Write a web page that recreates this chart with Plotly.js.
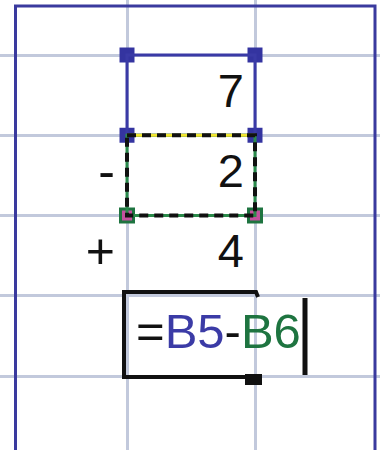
<!DOCTYPE html>
<html>
<head>
<meta charset="utf-8">
<script src="https://cdn.plot.ly/plotly-3.0.1.min.js"></script>
<style>
  html, body { margin: 0; padding: 0; background: #fff; }
  #sheet { width: 380px; height: 450px; }
</style>
</head>
<body>
<div id="sheet"></div>
<script>
// cells of column B, rows 5..7, with the operator typed in column A
var rows = [5, 6, 7];
var cellValues = [7, 2, 4];
var operators = ['', '-', '+'];

// formula being typed in B8
var formulaRow = 8;
var formulaParts = ['=', 'B5', '-', 'B6'];
var refColors = { 'B5': '#3b3ba6', 'B6': '#1e7440' };

var W = 380, H = 450;
var colLeft = 127, colW = 128;   // column B starts at 127px
var rowTop = 55, rowH = 80.25;   // row 5 starts at 55px

// pixel -> data helpers (column B spans 1.5..2.5, row r spans r-0.5..r+0.5)
function xd(p) { return 1.5 + (p - colLeft) / colW; }
function yd(p) { return 4.5 + (p - rowTop) / rowH; }
function pxX(p) { return p / W; }
function pxY(p) { return 1 - p / H; }

var numFont = { family: 'Liberation Sans, Arial, sans-serif', size: 47, color: '#111' };

var values = {
  x: rows.map(function () { return 2.5 - 11 / colW; }),
  y: rows,
  text: cellValues.map(String),
  mode: 'text',
  textposition: 'middle left',
  textfont: numFont,
  hoverinfo: 'skip',
  showlegend: false
};

var ops = {
  x: rows.map(function () { return 1.5 - 12 / colW; }),
  y: rows,
  text: operators,
  mode: 'text',
  textposition: 'middle left',
  textfont: { family: 'Liberation Sans, Arial, sans-serif', size: 50, color: '#111' },
  hoverinfo: 'skip',
  showlegend: false
};

var formulaText = formulaParts.map(function (p) {
  if (refColors[p]) return '<span style="color:' + refColors[p] + '">' + p + '</span>';
  return p;
}).join('');

var formula = {
  x: [1.5 + 9 / colW],
  y: [formulaRow],
  text: [formulaText],
  mode: 'text',
  textposition: 'middle right',
  textfont: { family: 'Liberation Sans, Arial, sans-serif', size: 49, color: '#111' },
  hoverinfo: 'skip',
  showlegend: false
};

// selection handles at the corners of the referenced cells
var blueHandles = {
  x: [1.5, 2.5, 1.5, 2.5],
  y: [4.5, 4.5, 5.5, 5.5],
  mode: 'markers',
  marker: { symbol: 'square', size: 15, color: '#3434a0' },
  hoverinfo: 'skip',
  showlegend: false
};
var greenHandles = {
  x: [1.5, 2.5],
  y: [6.5, 6.5],
  mode: 'markers',
  marker: { symbol: 'square', size: 13, color: '#c4509e', line: { color: '#1e7440', width: 3 } },
  hoverinfo: 'skip',
  showlegend: false
};

var shapes = [
  // outer frame, open at the bottom
  { type: 'path', xref: 'paper', yref: 'paper',
    path: 'M ' + pxX(15.5) + ' 0 L ' + pxX(15.5) + ' ' + pxY(6) + ' L ' + pxX(375) + ' ' + pxY(6) + ' L ' + pxX(375) + ' 0',
    line: { color: '#3a3a9e', width: 3 } },
  // B5 selection
  { type: 'rect', x0: 1.5, x1: 2.5, y0: 4.5, y1: 5.5, line: { color: '#3a3aa6', width: 3 } },
  // B6 marquee: coloured base then black dashes
  { type: 'rect', x0: 1.5, x1: 2.5, y0: 5.5, y1: 6.5, line: { color: '#2a8a4a', width: 3 } },
  { type: 'line', x0: 1.5, x1: 2.5, y0: 5.5, y1: 5.5, line: { color: '#f2e630', width: 3 } },
  { type: 'rect', x0: 1.5, x1: 2.5, y0: 5.5, y1: 6.5, line: { color: '#111', width: 4, dash: '9px,6px' } },
  // formula cell in edit mode
  { type: 'path', xref: 'x', yref: 'y',
    path: 'M ' + xd(258) + ' ' + yd(297) + ' L ' + xd(256) + ' ' + yd(292) + ' L ' + xd(124) + ' ' + yd(292) +
          ' L ' + xd(124) + ' ' + yd(377) + ' L ' + xd(248) + ' ' + yd(377),
    line: { color: '#111', width: 4 } },
  { type: 'rect', x0: xd(245), x1: xd(262), y0: yd(374), y1: yd(385), fillcolor: '#111', line: { width: 0 } },
  // text cursor
  { type: 'line', x0: xd(305), x1: xd(305), y0: yd(298), y1: yd(375), line: { color: '#111', width: 5 } }
];

var gridAxis = {
  showgrid: true, gridcolor: '#c2c9dc', gridwidth: 3,
  zeroline: false, showline: false, ticks: '', showticklabels: false,
  tick0: 0.5, dtick: 1, fixedrange: true
};

var layout = {
  width: W, height: H,
  margin: { l: 0, r: 0, t: 0, b: 0 },
  paper_bgcolor: '#fff', plot_bgcolor: '#fff',
  xaxis: Object.assign({ range: [xd(0), xd(W)] }, gridAxis),
  yaxis: Object.assign({ range: [yd(H), yd(0)] }, gridAxis),
  shapes: shapes
};

Plotly.newPlot('sheet', [values, ops, formula, blueHandles, greenHandles], layout, { displayModeBar: false, staticPlot: true });
</script>
</body>
</html>
